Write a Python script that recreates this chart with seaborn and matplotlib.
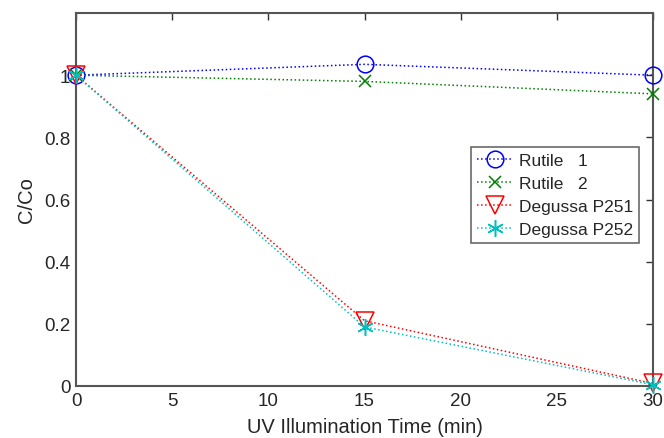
import matplotlib
matplotlib.use("Agg")
import matplotlib.pyplot as plt
import pandas as pd
import seaborn as sns

# data
time_min = [0, 15, 30]
rutile_1 = [1.0, 1.035, 1.0]
rutile_2 = [1.0, 0.98, 0.94]
degussa_p251 = [1.0, 0.21, 0.008]
degussa_p252 = [1.0, 0.19, 0.004]
labels = ["Rutile   1", "Rutile   2", "Degussa P251", "Degussa P252"]

sns.set_style("white")
plt.rcParams["font.family"] = ["Liberation Sans", "DejaVu Sans"]

series = [rutile_1, rutile_2, degussa_p251, degussa_p252]
df = pd.concat(
    [pd.DataFrame({"time": time_min, "value": v, "sample": lab}) for v, lab in zip(series, labels)]
)

colors = ["#0000ff", "#008000", "#ff0000", "#00bfbf"]
markers = ["o", "x", "v", (6, 2, 0)]
sizes = [12, 9, 12.5, 12]

fig = plt.figure(figsize=(6.64, 4.39), dpi=100)
ax = fig.add_axes([0.1145, 0.1185, 0.869, 0.8495])

for lab, c, m, s in zip(labels, colors, markers, sizes):
    sub = df[df["sample"] == lab]
    face = "none" if m in ("o", "v") else c
    sns.lineplot(data=sub, x="time", y="value", ax=ax, color=c, linestyle=":", linewidth=1.1,
                 marker=m, markersize=s, markerfacecolor=face, markeredgecolor=c,
                 markeredgewidth=1.1, label=lab, clip_on=False, zorder=5)

ax.set_xlim(0, 30)
ax.set_ylim(0, 1.2)
ax.set_xticks([0, 5, 10, 15, 20, 25, 30])
ax.set_yticks([0, 0.2, 0.4, 0.6, 0.8, 1.0])
ax.set_yticklabels(["0", "0.2", "0.4", "0.6", "0.8", "1"])
ax.tick_params(direction="in", length=5, width=1, labelsize=13.5, top=True, right=True,
               color="#333333", pad=4)
for sp in ax.spines.values():
    sp.set_color("#555555")
    sp.set_linewidth(1.5)
ax.set_xlabel("UV Illumination Time (min)", fontsize=14.5, labelpad=6)
ax.set_ylabel("C/Co", fontsize=14.5, labelpad=6)

leg = ax.legend(loc="upper left", bbox_to_anchor=(0.67, 0.665), fontsize=12.5, frameon=True,
                fancybox=False, edgecolor="#444444", handlelength=2.0, borderpad=0.35,
                labelspacing=0.45, handletextpad=0.4)
leg.get_frame().set_linewidth(1.2)

fig.savefig("out.png", dpi=100)
